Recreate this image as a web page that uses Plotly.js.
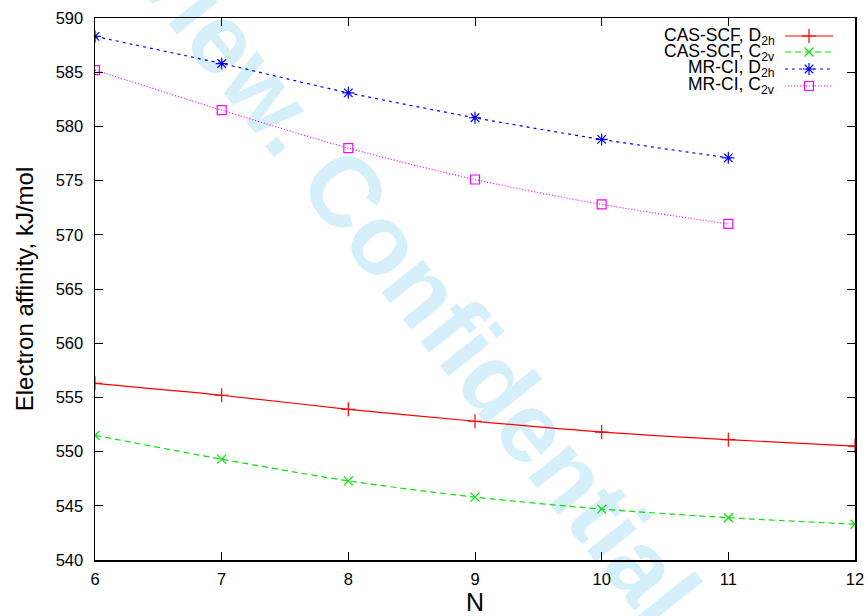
<!DOCTYPE html>
<html>
<head>
<meta charset="utf-8">
<script src="https://cdn.plot.ly/plotly-3.0.1.min.js"></script>
<style>html,body{margin:0;padding:0;background:#fff;}#plot{width:868px;height:616px;}</style>
</head>
<body>
<div id="plot"></div>
<script>
// ---- data ----
const N_all = [6, 7, 8, 9, 10, 11, 12];
const N_mr  = [6, 7, 8, 9, 10, 11];
const casD2h = [556.3, 555.2, 553.9, 552.8, 551.8, 551.1, 550.5];
const casC2v = [551.5, 549.3, 547.3, 545.8, 544.7, 543.9, 543.3];
const mrD2h  = [588.3, 585.8, 583.1, 580.8, 578.8, 577.1];
const mrC2v  = [585.2, 581.5, 578.0, 575.1, 572.8, 571.0];
const seriesNames = ["CAS-SCF, D<sub>2h</sub>", "CAS-SCF, C<sub>2v</sub>", "MR-CI, D<sub>2h</sub>", "MR-CI, C<sub>2v</sub>"];
const xTicks = [6, 7, 8, 9, 10, 11, 12];
const yTicks = [540, 545, 550, 555, 560, 565, 570, 575, 580, 585, 590];
const watermark = "Preview. Confidential";

// ---- styles ----
const styles = [
  {color: "#ff0000", dash: "solid", symbol: "cross-thin-open", size: 10},
  {color: "#00e400", dash: "6px,4px", symbol: "x-thin-open", size: 9},
  {color: "#0000ff", dash: "3px,4px", symbol: "asterisk-open", size: 10},
  {color: "#ff00ff", dash: "1px,2px", symbol: "square-open", size: 9}
];
const xs = [N_all, N_all, N_mr, N_mr];
const ys = [casD2h, casC2v, mrD2h, mrC2v];

const W = 868, H = 616, L = 95, R = 13, T = 18, B = 56;
const pw = W - L - R, ph = H - T - B;
const px = X => (X - L) / pw;
const py = Y => (H - B - Y) / ph;

const traces = ys.map((y, i) => ({
  x: xs[i], y: y, type: "scatter", mode: "lines+markers",
  name: seriesNames[i], showlegend: false, hoverinfo: "skip",
  line: {color: styles[i].color, width: 1.2, dash: styles[i].dash, shape: "spline", smoothing: 0.8},
  marker: {symbol: styles[i].symbol, size: styles[i].size, color: styles[i].color,
           line: {color: styles[i].color, width: 1.2}}
}));

// legend (gnuplot style: text right-aligned, sample on the right)
const legRowsY = [36, 52, 69, 86];
const annotations = [];
const shapes = [];
legRowsY.forEach((Y, i) => {
  annotations.push({
    xref: "paper", yref: "paper", x: px(777), y: py(Y), xanchor: "right", yanchor: "middle",
    text: seriesNames[i], showarrow: false,
    font: {family: "Liberation Sans Narrow, Arial Narrow, Liberation Sans, sans-serif", size: 17.5, color: "#000"}
  });
  shapes.push({
    type: "line", xref: "paper", yref: "paper", x0: px(785), x1: px(833), y0: py(Y), y1: py(Y),
    line: {color: styles[i].color, width: 1.2, dash: styles[i].dash}
  });
  traces.push({
    x: [px(809)], y: [py(Y)], xaxis: "x2", yaxis: "y2", type: "scatter", mode: "markers",
    showlegend: false, hoverinfo: "skip",
    marker: {symbol: styles[i].symbol, size: styles[i].size, color: styles[i].color,
             line: {color: styles[i].color, width: 1.2}}
  });
});

// watermark, drawn below the traces
shapes.push({
  type: "line", xref: "paper", yref: "paper", layer: "below",
  x0: px(70), y0: py(-170), x1: px(680), y1: py(598),
  line: {width: 0, color: "rgba(0,0,0,0)"},
  label: {text: "<b>" + watermark + "</b>", textposition: "middle", yanchor: "middle",
          font: {family: "Liberation Sans, Arial, sans-serif", size: 99, color: "#d5effb"}}
});

const axisFont = {family: "Liberation Sans, Arial, sans-serif", size: 16.5, color: "#000"};
const layout = {
  width: W, height: H,
  margin: {l: L, r: R, t: T, b: B, pad: 0},
  paper_bgcolor: "#fff", plot_bgcolor: "rgba(0,0,0,0)",
  showlegend: false,
  xaxis: {
    range: [6, 12], tickvals: xTicks, ticktext: xTicks.map(String),
    ticks: "inside", ticklen: 8, tickwidth: 1, tickcolor: "#000", ticklabelstandoff: 4,
    showline: true, linecolor: "#000", linewidth: 1.5, mirror: "allticks",
    showgrid: false, zeroline: false, tickfont: axisFont,
    title: {text: "N", font: {family: "Liberation Sans, Arial, sans-serif", size: 25, color: "#000"}, standoff: 0},
    automargin: false
  },
  yaxis: {
    range: [540, 590], tickvals: yTicks, ticktext: yTicks.map(String),
    ticks: "inside", ticklen: 8, tickwidth: 1, tickcolor: "#000", ticklabelstandoff: 7,
    showline: true, linecolor: "#000", linewidth: 1.5, mirror: "allticks",
    showgrid: false, zeroline: false, tickfont: axisFont,
    title: {text: "Electron affinity, kJ/mol", font: {family: "Liberation Sans, Arial, sans-serif", size: 24, color: "#000"}, standoff: 15},
    automargin: false
  },
  xaxis2: {overlaying: "x", range: [0, 1], visible: false, fixedrange: true},
  yaxis2: {overlaying: "y", range: [0, 1], visible: false, fixedrange: true},
  annotations: annotations,
  shapes: shapes
};

Plotly.newPlot("plot", traces, layout, {staticPlot: true, displayModeBar: false});
</script>
</body>
</html>
